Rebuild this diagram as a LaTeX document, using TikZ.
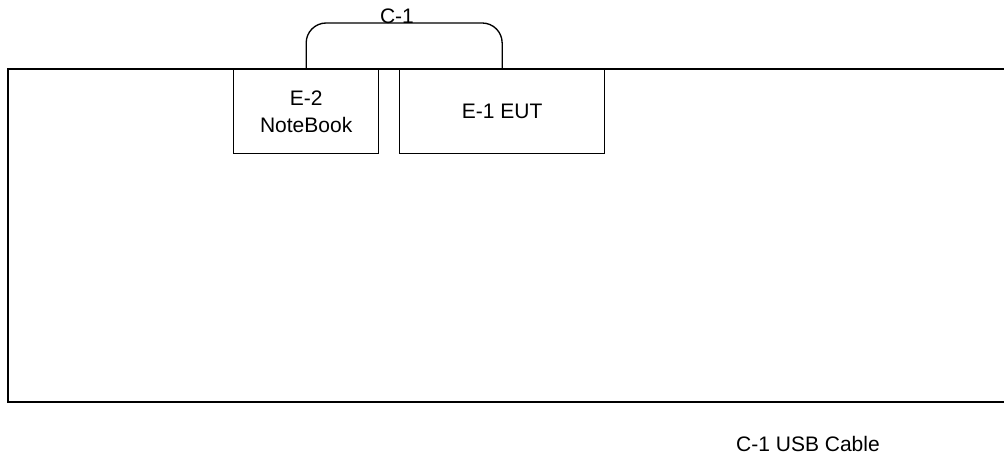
\documentclass[tikz,border=0pt]{standalone}
\usepackage{fontspec}
\setmainfont{Liberation Sans}
\tikzset{
  unit/.style={draw, line width=1pt, minimum width=#1, minimum height=63pt, inner sep=0pt, align=center, anchor=north west},
  cable/.style={line width=1pt, rounded corners=15pt},
  lbl/.style={inner sep=0pt, font=\fontsize{15.75}{20}\selectfont}
}
\begin{document}
\begin{tikzpicture}[x=0.75pt, y=-0.75pt]
    \useasboundingbox (0,0) rectangle (1004,459);
    % Tisch
    \draw[line width=1pt] (1004,69) -- (8,69) -- (8,402) -- (1004,402);

    % Geraete
    \node[unit=108.75pt, lbl] (e2) at (233,69) {E-2\\NoteBook};
    \node[unit=153.75pt, lbl] (e1) at (399,69) {E-1 EUT};

    % Kabel
    \coordinate (cabletop) at (400,23);
    \draw[cable] (e2.north) |- (cabletop) -| (e1.north);
    \node[lbl] (c1) at (397,16) {C-1};

    % Legende
    \node[lbl] (legend) at (808,444) {C-1 USB Cable};
\end{tikzpicture}
\end{document}
